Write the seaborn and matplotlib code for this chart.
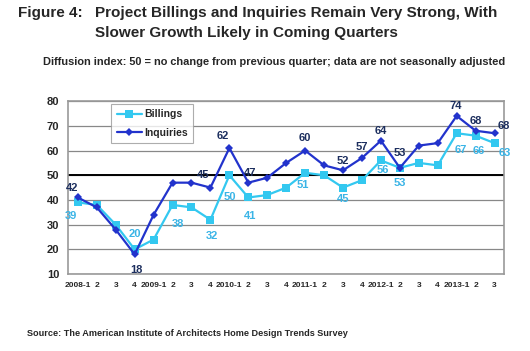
import numpy as np
import pandas as pd
import matplotlib
matplotlib.use("Agg")
import matplotlib.pyplot as plt
import seaborn as sns

# quarters 2008-1 .. 2013-3
quarters = ["2008-1", "2", "3", "4", "2009-1", "2", "3", "4", "2010-1", "2", "3", "4",
            "2011-1", "2", "3", "4", "2012-1", "2", "3", "4", "2013-1", "2", "3"]
billings = [39, 38, 30, 20, 24, 38, 37, 32, 50, 41, 42, 45, 51, 50, 45, 48, 56, 53, 55, 54, 67, 66, 63]
inquiries = [41, 37, 28, 18, 34, 47, 47, 45, 61, 47, 49, 55, 60, 54, 52, 57, 64, 53, 62, 63, 74, 68, 67]

# labelled points: index -> text
bill_labels = {0: "39", 3: "20", 5: "38", 7: "32", 8: "50", 9: "41", 12: "51", 14: "45",
               16: "56", 17: "53", 20: "67", 21: "66", 22: "63"}
inq_labels = {0: "42", 3: "18", 7: "45", 8: "62", 9: "47", 12: "60", 14: "52", 15: "57",
              16: "64", 17: "53", 20: "74", 21: "68", 22: "68"}

# label offsets in points (dx, dy)
bill_off = {0: (-5, -10), 3: (0, 11), 5: (4, -14), 7: (1, -12), 8: (0, -16), 9: (1, -13),
            12: (-2, -9), 14: (0, -8), 16: (1, -7), 17: (0, -11), 20: (3, -12), 21: (2, -11),
            22: (7, -7)}
inq_off = {0: (-4, 7), 3: (1, -11), 7: (-5, 9), 8: (-5, 9), 9: (1, 7), 12: (0, 9),
           14: (0, 7), 15: (0, 8), 16: (0, 7), 17: (0, 11), 20: (-1, 7), 21: (0, 7),
           22: (7, 5)}

c_bill = "#33C8F0"
c_inq = "#2233CC"

df = pd.DataFrame({
    "x": list(range(len(quarters))) * 2,
    "value": billings + inquiries,
    "series": ["Billings"] * len(quarters) + ["Inquiries"] * len(quarters),
})

sns.set_style("white")
plt.rcParams["font.family"] = ["Liberation Sans", "DejaVu Sans"]

fig = plt.figure(figsize=(5.3, 3.51), dpi=100)
ax = fig.add_axes([0.129, 0.219, 0.822, 0.493])

sns.lineplot(data=df, x="x", y="value", hue="series", style="series",
             palette={"Billings": c_bill, "Inquiries": c_inq},
             markers={"Billings": "s", "Inquiries": "D"}, dashes=False,
             linewidth=1.6, markeredgewidth=0, ax=ax)
for line in ax.get_lines():
    if line.get_marker() == "D":
        line.set_markersize(4.5)
    elif line.get_marker() == "s":
        line.set_markersize(5.5)

ax.set_xlim(-0.5, len(quarters) - 0.5)
ax.set_ylim(10, 80)
ax.set_yticks(range(10, 81, 10))
ax.yaxis.grid(True, color="#888888", linewidth=0.9)
ax.set_axisbelow(True)
ax.axhline(50, color="black", linewidth=1.4, zorder=1.5)

ax.set_xticks(range(len(quarters)))
ax.set_xticklabels(quarters, fontsize=6, fontweight="bold")
ax.tick_params(axis="x", length=0, pad=6)
ax.set_xticks(np.arange(-0.5, len(quarters), 1), minor=True)
ax.tick_params(axis="x", which="minor", length=3, color="#888888", direction="out")
ax.tick_params(axis="y", labelsize=8, length=3, color="#888888")
for t in ax.get_yticklabels():
    t.set_fontweight("bold")
ax.set_xlabel("")
ax.set_ylabel("")
for s in ax.spines.values():
    s.set_color("#999999")
    s.set_linewidth(1.2)

for i, txt in bill_labels.items():
    dx, dy = bill_off[i]
    ax.annotate(txt, (i, billings[i]), xytext=(dx, dy), textcoords="offset points",
                ha="center", va="center", fontsize=8, fontweight="bold", color="#3AB4E6")
for i, txt in inq_labels.items():
    dx, dy = inq_off[i]
    ax.annotate(txt, (i, inquiries[i]), xytext=(dx, dy), textcoords="offset points",
                ha="center", va="center", fontsize=8, fontweight="bold", color="#1C2E5E")

leg = ax.legend(loc="upper left", bbox_to_anchor=(0.087, 1.012), frameon=True, fancybox=False,
                prop={"weight": "bold", "size": 7.5}, handlelength=2.4, handletextpad=0.2,
                borderpad=0.5, labelspacing=0.8)
leg.get_frame().set_edgecolor("#999999")
leg.get_frame().set_linewidth(0.8)

fig.text(0.034, 0.963, "Figure 4:", fontsize=11, fontweight="bold", va="center")
fig.text(0.179, 0.963, "Project Billings and Inquiries Remain Very Strong, With",
         fontsize=11, fontweight="bold", va="center")
fig.text(0.179, 0.907, "Slower Growth Likely in Coming Quarters",
         fontsize=11, fontweight="bold", va="center")
fig.text(0.081, 0.824, "Diffusion index: 50 = no change from previous quarter; data are not seasonally adjusted",
         fontsize=7.9, fontweight="bold", va="center")
fig.text(0.051, 0.051, "Source: The American Institute of Architects Home Design Trends Survey",
         fontsize=6.6, fontweight="bold", va="center")

fig.savefig("out.png", dpi=100)
